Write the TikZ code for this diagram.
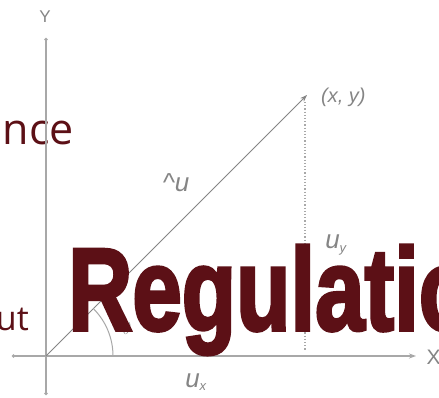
\documentclass[tikz,border=0pt]{standalone}
\usepackage{fontspec}
\setmainfont{Liberation Sans}
\newfontfamily\overlayfont{Open Sans}
\newfontfamily\bannerfont[BoldFeatures={FakeBold=3}]{Liberation Sans}
\usetikzlibrary{arrows.meta}
\definecolor{maroon}{HTML}{5C1016}
\definecolor{axisgray}{HTML}{A8A8A8}
\definecolor{labelgray}{HTML}{858585}
\begin{document}
\begin{tikzpicture}[
    x=1pt, y=-1pt,
    axis/.style={draw=axisgray, line width=1.3pt},
    vec/.style={-{Stealth[length=7pt,width=5pt]}, draw=labelgray, line width=0.9pt},
    proj/.style={draw=axisgray, line width=1.2pt, dotted},
    lbl/.style={text=labelgray, inner sep=1pt, font=\fontsize{26}{26}\selectfont\itshape},
    overlay/.style={text=maroon, inner sep=0pt},
]
    \clip (0,0) rectangle (439,398);
    \fill[white] (0,0) rectangle (439,398);

    % background words, partly cut off
    \node[overlay, anchor=base east, font=\overlayfont\fontsize{43}{43}\selectfont] (perf) at (74,145) {nce};
    \node[overlay, anchor=base east, font=\overlayfont\fontsize{34}{34}\selectfont] (outp) at (29,330) {ut};

    % axes
    \coordinate (O) at (46,356);
    \coordinate (xl) at (12,356);
    \coordinate (xr) at (416,356);
    \coordinate (yt) at (46,38);
    \coordinate (yb) at (46,395);
    \draw[axis, {Circle[length=3pt]}-{Stealth[length=7pt,width=5pt]}] (xl) -- (xr);
    \draw[axis, {Circle[length=3pt]}-{Circle[length=3pt]}] (yb) -- (yt);
    \node[text=labelgray, font=\fontsize{17}{17}\selectfont] (ylab) at (45,17) {Y};
    \node[text=labelgray, anchor=west, font=\fontsize{21}{21}\selectfont] (xlab) at (423,357) {X};

    % vector and its parts
    \coordinate (P) at (307,95);
    \coordinate (Pf) at (305,350);
    \draw[vec] (O) -- (P);
    \draw[proj] (305,102) -- (Pf);
    \draw[axisgray, line width=1pt] (113,356) arc[start angle=0, end angle=-45, radius=67];
    \node[lbl, anchor=west, font=\fontsize{20}{20}\selectfont\itshape] (pt) at (320,97) {(x, y)};
    \node[lbl] (uhat) at (176,183) {\^{}u};
    \node[lbl] (uy) at (336,245) {u\textsubscript{\fontsize{13}{13}\selectfont y}};
    \node[lbl] (ux) at (196,382) {u\textsubscript{\fontsize{13}{13}\selectfont x}};
    \node[text=labelgray, font=\fontsize{16}{16}\selectfont\itshape] (theta) at (127,328) {$\theta$};

    % banner word over the figure
    \node[overlay, anchor=base west, xscale=0.76, font=\bannerfont\fontsize{117}{117}\selectfont\bfseries] (banner) at (68,330) {Regulation};
\end{tikzpicture}
\end{document}
